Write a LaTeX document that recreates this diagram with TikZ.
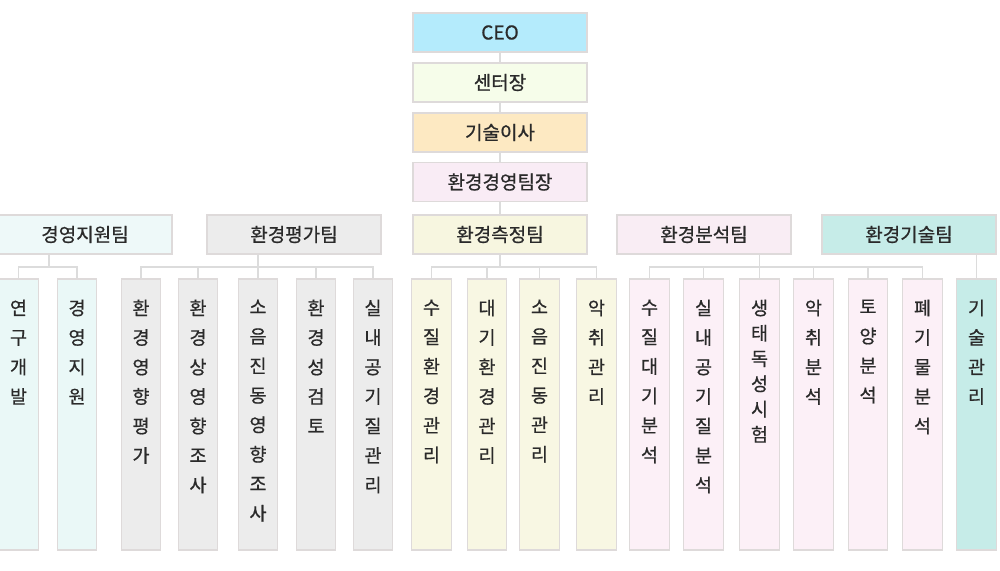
\documentclass[tikz,border=0pt]{standalone}
\usepackage{fontspec}
\setmainfont{Noto Sans CJK KR}[FakeBold=0.7]
\usetikzlibrary{calc}
\definecolor{cceo}{HTML}{B4EBFC}
\definecolor{cctr}{HTML}{F6FDEA}
\definecolor{ctech}{HTML}{FDE9C2}
\definecolor{cmgr}{HTML}{F9ECF5}
\definecolor{cmeas}{HTML}{F7F6E0}
\definecolor{cmeask}{HTML}{F8F7E3}
\definecolor{csup}{HTML}{EEF9F9}
\definecolor{csupk}{HTML}{EAF8F7}
\definecolor{ceval}{HTML}{ECECEC}
\definecolor{canal}{HTML}{F9EDF4}
\definecolor{canalk}{HTML}{FCF0F7}
\definecolor{ctec}{HTML}{C6ECE8}
\definecolor{cborder}{HTML}{DEDADA}
\definecolor{cline}{HTML}{DCDCDC}
\definecolor{ctext}{HTML}{2A2A2A}
\newcommand{\orgkid}[5][]{%
  \node[cbox,fill=#4] (#2) at (#3,414.5) {};
  \node[kidtext,#1] (#2t) at ([yshift=-21pt]#2.north) {#5};}
\begin{document}
\begin{tikzpicture}[x=1pt,y=-1pt,
  tbox/.style={draw=cborder,line width=1.2pt,minimum width=174,minimum height=39,inner sep=0,
    text=ctext,font=\fontsize{19}{22}\selectfont},
  cbox/.style={draw=cborder,line width=1.2pt,minimum width=39.5,minimum height=271,inner sep=0},
  kidtext/.style={anchor=north,align=center,inner sep=0,text=ctext,font=\fontsize{18.5}{29.5}\selectfont},
  tightkid/.style={font=\fontsize{18.5}{25.3}\selectfont},
  conn/.style={draw=cline,line width=1.2pt}]
\fill[white] (0,0) rectangle (1000,570);
\useasboundingbox (0,0) rectangle (1000,570);
% top chain
\node[tbox,fill=cceo] (ceo) at (500,32.5) {CEO};
\node[tbox,fill=cctr] (ctr) at (500,82.5) {센터장};
\node[tbox,fill=ctech] (tech) at (500,132.5) {기술이사};
\node[tbox,fill=cmgr] (mgr) at (500,182) {환경경영팀장};
% teams
\node[tbox,fill=csup] (t1) at (85,234.5) {경영지원팀};
\node[tbox,fill=ceval] (t2) at (294,234.5) {환경평가팀};
\node[tbox,fill=cmeas] (t3) at (500,234.5) {환경측정팀};
\node[tbox,fill=canal] (t4) at (704,234.5) {환경분석팀};
\node[tbox,fill=ctec] (t5) at (909,234.5) {환경기술팀};
% children
\orgkid{k1}{18.5}{csupk}{연\\구\\개\\발}
\orgkid{k2}{77}{csupk}{경\\영\\지\\원}
\orgkid{k3}{141}{ceval}{환\\경\\영\\향\\평\\가}
\orgkid{k4}{198}{ceval}{환\\경\\상\\영\\향\\조\\사}
\orgkid{k5}{258}{ceval}{소\\음\\진\\동\\영\\향\\조\\사}
\orgkid{k6}{316}{ceval}{환\\경\\성\\검\\토}
\orgkid{k7}{373}{ceval}{실\\내\\공\\기\\질\\관\\리}
\orgkid{k8}{431.5}{cmeask}{수\\질\\환\\경\\관\\리}
\orgkid{k9}{487}{cmeask}{대\\기\\환\\경\\관\\리}
\orgkid{k10}{539.5}{cmeask}{소\\음\\진\\동\\관\\리}
\orgkid{k11}{596.5}{cmeask}{악\\취\\관\\리}
\orgkid{k12}{649.5}{canalk}{수\\질\\대\\기\\분\\석}
\orgkid{k13}{703.5}{canalk}{실\\내\\공\\기\\질\\분\\석}
\orgkid[tightkid]{k14}{759.5}{canalk}{생\\태\\독\\성\\시\\험}
\orgkid{k15}{813.5}{canalk}{악\\취\\분\\석}
\orgkid{k16}{868}{canalk}{토\\양\\분\\석}
\orgkid{k17}{922.5}{canalk}{폐\\기\\물\\분\\석}
\orgkid{k18}{976.5}{ctec}{기\\술\\관\\리}
% connectors: top chain
\draw[conn] (ceo) -- (ctr);
\draw[conn] (ctr) -- (tech);
\draw[conn] (tech) -- (mgr);
\draw[conn] (mgr) -- (t3);
% junctions
\coordinate (j1) at (49,267);
\coordinate (j2) at (258,267);
\coordinate (j3) at (500,267);
\coordinate (j4) at (759.5,267);
% group 1
\draw[conn] (j1 |- t1.south) -- (j1);
\draw[conn] (k1.north) |- (j1) -| (k2.north);
% group 2
\draw[conn] (j2 |- t2.south) -- (j2);
\draw[conn] (k3.north) |- (j2) -| (k7.north);
\foreach \k in {k4,k5,k6} \draw[conn] (\k.north) -- (\k.north |- j2);
% group 3
\draw[conn] (t3.south) -- (j3);
\draw[conn] (k8.north) |- (j3) -| (k11.north);
\foreach \k in {k9,k10} \draw[conn] (\k.north) -- (\k.north |- j3);
% group 4
\draw[conn] (t4.south -| k14.north) -- (k14.north);
\draw[conn] (k12.north) |- (j4) -| (k17.north);
\foreach \k in {k13,k15,k16} \draw[conn] (\k.north) -- (\k.north |- j4);
% group 5
\draw[conn] (t5.south -| k18.north) -- (k18.north);
\end{tikzpicture}
\end{document}
